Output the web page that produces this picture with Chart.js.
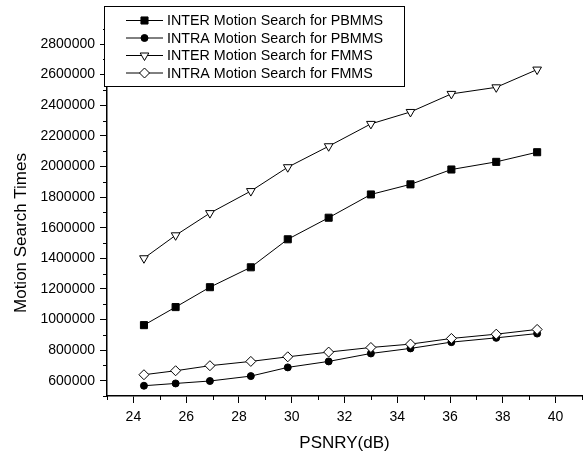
<!DOCTYPE html>
<html>
<head>
<meta charset="utf-8">
<script src="https://cdn.jsdelivr.net/npm/chart.js@4/dist/chart.umd.min.js"></script>
<style>
  body { margin: 0; background: #fff; }
  #wrap { width: 588px; height: 452px; }
</style>
</head>
<body>
<div id="wrap"><canvas id="chart" width="588" height="452"></canvas></div>
<script>
// PSNR values (dB) shared by all four curves
const psnr = [24.4, 25.6, 26.9, 28.45, 29.85, 31.4, 33.0, 34.5, 36.05, 37.75, 39.3];

const interPBMMS = [963000, 1081000, 1211000, 1341000, 1524000, 1665000, 1817000, 1883000, 1980000, 2030000, 2093000];
const intraPBMMS = [567000, 582000, 598000, 630000, 687000, 726000, 778000, 811000, 852000, 880000, 908000];
const interFMMS  = [1400000, 1550000, 1695000, 1839000, 1995000, 2132000, 2278000, 2356000, 2474000, 2517000, 2633000];
const intraFMMS  = [639000, 665000, 698000, 726000, 756000, 787000, 817000, 839000, 876000, 904000, 935000];

const seriesNames = [
  "INTER Motion Search for PBMMS",
  "INTRA Motion Search for PBMMS",
  "INTER Motion Search for FMMS",
  "INTRA Motion Search for FMMS"
];

const xTicks = [24, 26, 28, 30, 32, 34, 36, 38, 40];
const xMinorTicks = [23, 25, 27, 29, 31, 33, 35, 37, 39, 41];
const yTicks = [600000, 800000, 1000000, 1200000, 1400000, 1600000, 1800000, 2000000, 2200000, 2400000, 2600000, 2800000];
const yMinorTicks = [500000, 700000, 900000, 1100000, 1300000, 1500000, 1700000, 1900000, 2100000, 2300000, 2500000, 2700000, 2900000];

const FONT = "'Liberation Sans', Arial, sans-serif";

function pts(ys) {
  return ys.map((y, i) => ({ x: psnr[i], y: y }));
}

function series(label, ys, style, fill, radius, rotation, order) {
  return {
    label: label,
    data: pts(ys),
    showLine: true,
    borderColor: "#000",
    borderWidth: 1,
    pointStyle: style,
    pointRotation: rotation,
    pointRadius: radius,
    pointBackgroundColor: fill,
    pointBorderColor: "#000",
    pointBorderWidth: 1,
    order: order
  };
}

// minor ticks + axis titles + boxed legend
const extras = {
  id: "extras",
  afterDraw(chart) {
    const ctx = chart.ctx;
    const xs = chart.scales.x, ys = chart.scales.y;
    const area = chart.chartArea;
    ctx.save();
    ctx.strokeStyle = "#000";
    ctx.lineWidth = 1;
    yMinorTicks.forEach(v => {
      const p = Math.round(ys.getPixelForValue(v)) + 0.5;
      ctx.beginPath(); ctx.moveTo(area.left - 4, p); ctx.lineTo(area.left, p); ctx.stroke();
    });
    xMinorTicks.forEach(v => {
      const p = Math.round(xs.getPixelForValue(v)) + 0.5;
      ctx.beginPath(); ctx.moveTo(p, area.bottom); ctx.lineTo(p, area.bottom + 4); ctx.stroke();
    });

    // axis titles
    ctx.fillStyle = "#000";
    ctx.font = "17px " + FONT;
    ctx.textAlign = "center";
    ctx.textBaseline = "middle";
    ctx.fillText("PSNRY(dB)", (area.left + area.right) / 2, 443);
    ctx.save();
    ctx.translate(21, 233);
    ctx.rotate(-Math.PI / 2);
    ctx.fillText("Motion Search Times", 0, 0);
    ctx.restore();

    // legend box
    const bx = 104.5, by = 6.5, bw = 300, bh = 80;
    ctx.fillStyle = "#fff";
    ctx.fillRect(bx, by, bw, bh);
    ctx.strokeRect(bx, by, bw, bh);
    const rowsY = [20.5, 38, 55.5, 73];
    chart.data.datasets.forEach((ds, i) => {
      const y = rowsY[i];
      ctx.beginPath(); ctx.moveTo(126, y); ctx.lineTo(163, y); ctx.stroke();
      ctx.fillStyle = ds.pointBackgroundColor;
      ctx.strokeStyle = "#000";
      ctx.lineWidth = 1;
      Chart.helpers.drawPoint(ctx, {
        pointStyle: ds.pointStyle, rotation: ds.pointRotation,
        radius: ds.pointRadius, borderWidth: 1
      }, 144.5, y);
      ctx.fillStyle = "#000";
      ctx.font = "14.3px " + FONT;
      ctx.textAlign = "left";
      ctx.textBaseline = "middle";
      ctx.fillText(ds.label, 167, y + 1);
    });
    ctx.restore();
  }
};

new Chart(document.getElementById("chart"), {
  type: "scatter",
  data: {
    datasets: [
      series(seriesNames[0], interPBMMS, "rect", "#000", 5, 0, 3),
      series(seriesNames[1], intraPBMMS, "circle", "#000", 3.5, 0, 2),
      series(seriesNames[2], interFMMS, "triangle", "#fff", 5, 180, 1),
      series(seriesNames[3], intraFMMS, "rectRot", "#fff", 5, 0, 0)
    ]
  },
  options: {
    responsive: false,
    animation: false,
    devicePixelRatio: 1,
    layout: { padding: { top: 12, right: 1, left: 0, bottom: 0 } },
    plugins: { legend: { display: false }, tooltip: { enabled: false } },
    scales: {
      x: {
        type: "linear",
        min: 23, max: 41,
        afterBuildTicks: s => { s.ticks = xTicks.map(v => ({ value: v })); },
        afterFit: s => { s.height = 56; },
        grid: { drawOnChartArea: false, tickLength: 7, tickColor: "#000", tickWidth: 1 },
        border: { color: "#000", width: 1.5 },
        ticks: { color: "#000", font: { family: FONT, size: 14 }, padding: 6, maxRotation: 0 }
      },
      y: {
        type: "linear",
        min: 500000, max: 3000000,
        afterBuildTicks: s => { s.ticks = yTicks.map(v => ({ value: v })); },
        afterFit: s => { s.width = 107; },
        grid: { drawOnChartArea: false, tickLength: 7, tickColor: "#000", tickWidth: 1 },
        border: { color: "#000", width: 1.5 },
        ticks: { color: "#000", font: { family: FONT, size: 14 }, padding: 5, callback: v => String(v) }
      }
    }
  },
  plugins: [extras]
});
</script>
</body>
</html>
